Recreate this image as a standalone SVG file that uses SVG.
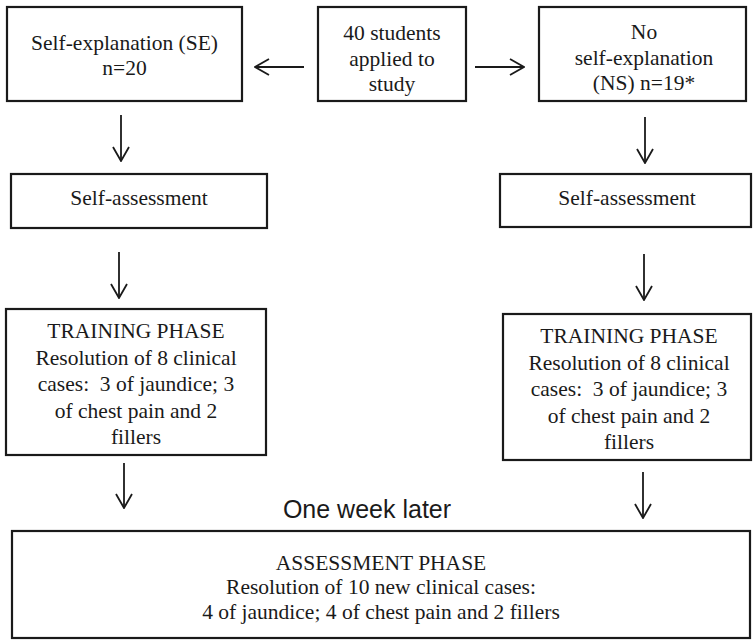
<svg xmlns="http://www.w3.org/2000/svg" width="753" height="642" viewBox="0 0 753 642">
<defs>
<style>
.box{fill:#fff;stroke:#1a1a1a;stroke-width:2.2}
.t{font-family:"Liberation Serif","Times New Roman",serif;font-size:21.5px;fill:#1a1a1a;text-anchor:middle}
.s{font-family:"Liberation Sans",Arial,sans-serif;font-size:25px;fill:#1a1a1a;text-anchor:middle}
.c{stroke:#1a1a1a;stroke-width:1.8;fill:none;marker-end:url(#ah)}
</style>
<marker id="ah" viewBox="0 0 16 18" refX="15" refY="9" markerWidth="16" markerHeight="18" markerUnits="userSpaceOnUse" orient="auto">
<path d="M1,1 L15,9 L1,17" fill="none" stroke="#1a1a1a" stroke-width="1.8"/>
</marker>
</defs>
<rect width="753" height="642" fill="#fff"/>
<g id="connectors">
<line class="c" x1="304" y1="67" x2="255" y2="67"/>
<line class="c" x1="475" y1="67" x2="524" y2="67"/>
<line class="c" x1="121" y1="115" x2="121" y2="161"/>
<line class="c" x1="645" y1="117" x2="645" y2="163"/>
<line class="c" x1="119" y1="252" x2="119" y2="298"/>
<line class="c" x1="644" y1="254" x2="644" y2="300"/>
<line class="c" x1="124" y1="463" x2="124" y2="508"/>
<line class="c" x1="643" y1="472" x2="643" y2="518"/>
</g>
<g id="se">
<rect class="box" x="7" y="7" width="235" height="94"/>
<text class="t" x="124.5" y="50">Self-explanation (SE)</text>
<text class="t" x="124.5" y="75">n=20</text>
</g>
<g id="students">
<rect class="box" x="318" y="7" width="148" height="94"/>
<text class="t" x="392" y="40">40 students</text>
<text class="t" x="392" y="66">applied to</text>
<text class="t" x="392" y="91">study</text>
</g>
<g id="ns">
<rect class="box" x="539" y="7" width="207" height="94"/>
<text class="t" x="644" y="39">No</text>
<text class="t" x="644" y="65">self-explanation</text>
<text class="t" x="644" y="90">(NS) n=19*</text>
</g>
<g id="sa-left">
<rect class="box" x="11" y="174" width="256" height="54"/>
<text class="t" x="139" y="205">Self-assessment</text>
</g>
<g id="sa-right">
<rect class="box" x="500" y="174" width="251" height="53"/>
<text class="t" x="627" y="205">Self-assessment</text>
</g>
<g id="training-left">
<rect class="box" x="6" y="309" width="260" height="146"/>
<text class="t" x="136" y="338">TRAINING PHASE</text>
<text class="t" x="136" y="365">Resolution of 8 clinical</text>
<text class="t" x="136" y="391">cases:&#160; 3 of jaundice; 3</text>
<text class="t" x="136" y="418">of chest pain and 2</text>
<text class="t" x="136" y="444">fillers</text>
</g>
<g id="training-right">
<rect class="box" x="503" y="314" width="248" height="146"/>
<text class="t" x="629" y="343">TRAINING PHASE</text>
<text class="t" x="629" y="370">Resolution of 8 clinical</text>
<text class="t" x="629" y="396">cases:&#160; 3 of jaundice; 3</text>
<text class="t" x="629" y="423">of chest pain and 2</text>
<text class="t" x="629" y="449">fillers</text>
</g>
<g id="week-label">
<text class="s" x="367" y="518">One week later</text>
</g>
<g id="assessment">
<rect class="box" x="12" y="531" width="738" height="107"/>
<text class="t" x="381" y="570">ASSESSMENT PHASE</text>
<text class="t" x="381" y="594">Resolution of 10 new clinical cases:</text>
<text class="t" x="381" y="619">4 of jaundice; 4 of chest pain and 2 fillers</text>
</g>
</svg>
